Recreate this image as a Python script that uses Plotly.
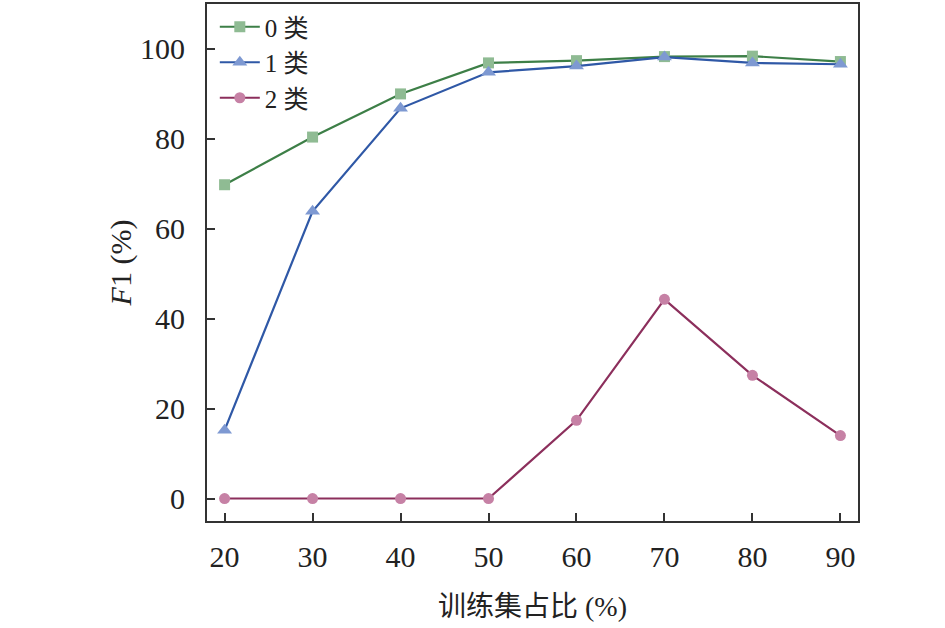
import plotly.graph_objects as go

x_vals = [20, 30, 40, 50, 60, 70, 80, 90]
class0 = [69.8, 80.4, 90.0, 96.9, 97.4, 98.3, 98.4, 97.2]
class1 = [15.2, 63.9, 86.8, 94.8, 96.2, 98.2, 96.9, 96.6]
class2 = [0, 0, 0, 0, 17.4, 44.3, 27.4, 14.0]
names = ["0 类", "1 类", "2 类"]

line_colors = ["#3d7f47", "#2f58a6", "#8c2f5c"]
marker_colors = ["#8fbb93", "#7e99d2", "#c681a5"]
symbols = ["square", "triangle-up", "circle"]
sizes = [11, 13, 11]

FONT = "Liberation Serif, Times New Roman, Noto Sans CJK SC, serif"

fig = go.Figure()
for name, ys, lc, mc, sym, sz in zip(names, [class0, class1, class2], line_colors, marker_colors, symbols, sizes):
    fig.add_trace(go.Scatter(
        x=x_vals, y=ys, name=name, mode="lines+markers",
        line=dict(color=lc, width=2.2),
        marker=dict(color=mc, symbol=sym, size=sz, line=dict(width=0)),
    ))

fig.update_layout(
    width=945, height=628,
    margin=dict(l=207, r=87, t=2, b=107),
    paper_bgcolor="white", plot_bgcolor="white",
    font=dict(family=FONT, size=30, color="#222"),
    showlegend=True,
    legend=dict(x=0.012, y=1.0, xanchor="left", yanchor="top",
                bgcolor="rgba(0,0,0,0)", font=dict(size=25, family=FONT),
                tracegroupgap=0, itemwidth=40, borderwidth=0),
    xaxis=dict(range=[18, 92], tickvals=x_vals, ticks="inside", ticklen=8, tickwidth=2,
               tickcolor="#333", showline=True, linecolor="#333", linewidth=2, mirror=True,
               showgrid=False, zeroline=False, ticklabelstandoff=8,
               title=dict(text="训练集占比 (%)", standoff=24, font=dict(size=28))),
    yaxis=dict(range=[-5, 110], tickvals=[0, 20, 40, 60, 80, 100], ticks="inside", ticklen=8,
               tickwidth=2, tickcolor="#333", showline=True, linecolor="#333", linewidth=2,
               mirror=True, showgrid=False, zeroline=False, ticklabelstandoff=14,
               title=dict(text="<i>F</i>1 (%)", standoff=0, font=dict(size=30))),
)

fig.write_html("out.html", config={"displayModeBar": False},
               post_script="document.body.style.margin='0px';")
